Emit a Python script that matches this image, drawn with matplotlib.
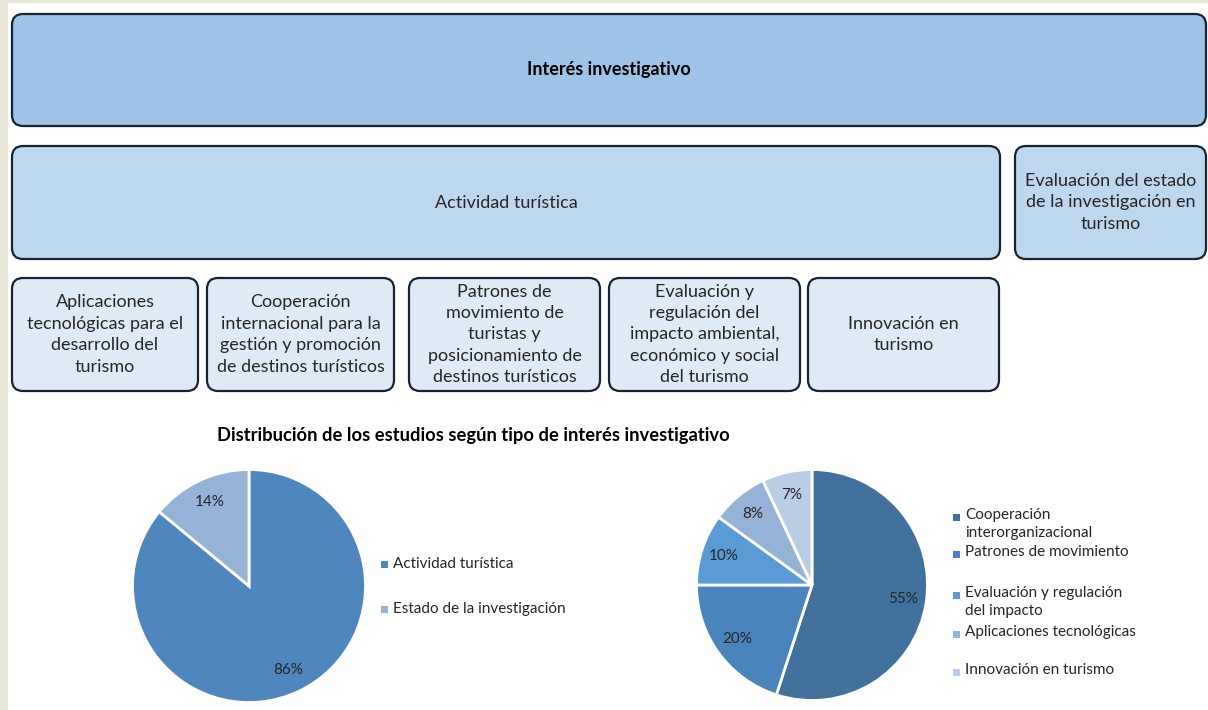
import matplotlib
matplotlib.use('Agg')
import matplotlib.pyplot as plt
from matplotlib.patches import FancyBboxPatch, Rectangle

plt.rcParams['font.family'] = ['Lato', 'DejaVu Sans']

# ---- data ----
header = 'Interés investigativo'
level2_labels = ['Actividad turística',
                 'Evaluación del estado\nde la investigación en\nturismo']
level3_labels = ['Aplicaciones\ntecnológicas para el\ndesarrollo del\nturismo',
                 'Cooperación\ninternacional para la\ngestión y promoción\nde destinos turísticos',
                 'Patrones de\nmovimiento de\nturistas y\nposicionamiento de\ndestinos turísticos',
                 'Evaluación y\nregulación del\nimpacto ambiental,\neconómico y social\ndel turismo',
                 'Innovación en\nturismo']

chart_title = 'Distribución de los estudios según tipo de interés investigativo'
pie1_labels = ['Actividad turística', 'Estado de la investigación']
pie1_values = [86, 14]
pie1_colors = ['#4F86BE', '#95B3D7']

pie2_labels = ['Cooperación\ninterorganizacional', 'Patrones de movimiento',
               'Evaluación y regulación\ndel impacto', 'Aplicaciones tecnológicas',
               'Innovación en turismo']
pie2_values = [55, 20, 10, 8, 7]
pie2_colors = ['#41719C', '#4B83BC', '#5B9BD5', '#94B3D6', '#B9CDE5']

# ---- layout (pixels) ----
W, H = 1208, 710
top_box = (12, 14, 1194, 112)
level2_boxes = [(12, 146, 988, 113), (1015, 146, 191, 113)]
level3_boxes = [(12, 278, 186, 113), (207, 278, 187, 113), (409, 278, 191, 113),
                (609, 278, 191, 113), (808, 278, 191, 113)]
text_color = '#262626'

fig = plt.figure(figsize=(W / 100, H / 100), dpi=100)
bg = fig.add_axes([0, 0, 1, 1])
bg.set_xlim(0, W)
bg.set_ylim(H, 0)
bg.axis('off')

# beige frame strips at left and top
bg.add_patch(Rectangle((0, 0), 8, H, facecolor='#E9E7D7', edgecolor='none'))
bg.add_patch(Rectangle((0, 0), W, 3, facecolor='#E9E7D7', edgecolor='none'))


def draw_box(box, label, color, size, weight='normal'):
    x, y, w, h = box
    bg.add_patch(FancyBboxPatch((x, y), w, h, boxstyle='round,pad=0,rounding_size=11',
                                facecolor=color, edgecolor='#1B2230', linewidth=1.6))
    bg.text(x + w / 2, y + h / 2, label, ha='center', va='center', fontsize=size,
            fontweight=weight, color=text_color if weight == 'normal' else 'black',
            linespacing=1.42)


draw_box(top_box, header, '#9DC3E6', 13, 'bold')
for b, lab in zip(level2_boxes, level2_labels):
    draw_box(b, lab, '#BDD7EE', 13)
for b, lab in zip(level3_boxes, level3_labels):
    draw_box(b, lab, '#DEEBF7', 13)

bg.text(473, 436, chart_title, ha='center', va='center', fontsize=13.2,
        fontweight='bold', color='black')


def draw_pie(cx, cy, r, values, colors):
    ax = fig.add_axes([(cx - r) / W, 1 - (cy + r) / H, 2 * r / W, 2 * r / H])
    ax.pie(values, colors=colors, startangle=90, counterclock=False,
           autopct=lambda p: f'{p:.0f}%', pctdistance=0.8,
           wedgeprops=dict(edgecolor='white', linewidth=2),
           textprops=dict(fontsize=11, color=text_color))
    ax.set_xlim(-1, 1)
    ax.set_ylim(-1, 1)
    ax.set_aspect('equal')
    return ax


draw_pie(249, 586, 116.5, pie1_values, pie1_colors)
draw_pie(812, 585, 115.5, pie2_values, pie2_colors)

# legends
legend1_y = [564, 609]
for y, lab, c in zip(legend1_y, pie1_labels, pie1_colors):
    bg.add_patch(Rectangle((381, y - 3), 7, 7, facecolor=c, edgecolor='none'))
    bg.text(393, y, lab, ha='left', va='center', fontsize=11, color=text_color)

legend2_y = [517, 554, 595, 634, 672]
for y, lab, c in zip(legend2_y, pie2_labels, pie2_colors):
    bg.add_patch(Rectangle((953, y - 3), 7, 7, facecolor=c, edgecolor='none'))
    bg.text(965, y - 9, lab, ha='left', va='top', fontsize=11, color=text_color,
            linespacing=1.38)

fig.savefig('out.png', dpi=100)
